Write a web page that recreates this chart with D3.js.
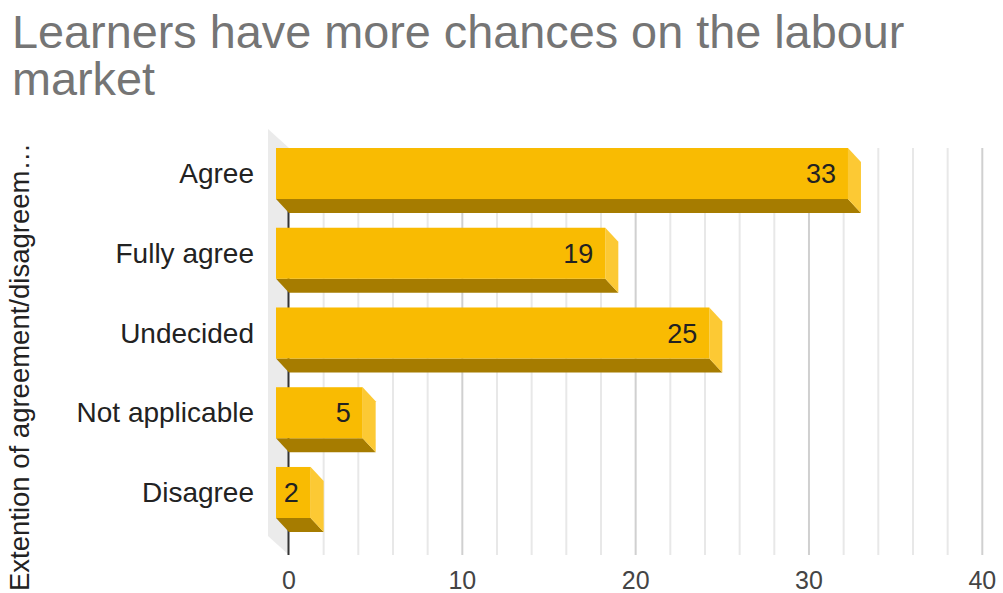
<!DOCTYPE html>
<html>
<head>
<meta charset="utf-8">
<script src="https://cdn.jsdelivr.net/npm/d3@7"></script>
<style>
html,body{margin:0;padding:0;background:#fff;}
svg{display:block;}
text{font-family:"Liberation Sans",Arial,sans-serif;}
</style>
</head>
<body>
<svg id="chart" width="1003" height="593"></svg>
<script>
const titleLines = ["Learners have more chances on the labour", "market"];
const yAxisTitle = "Extention of agreement/disagreem…";
const categories = ["Agree", "Fully agree", "Undecided", "Not applicable", "Disagree"];
const values = [33, 19, 25, 5, 2];
const tickValues = [0, 10, 20, 30, 40];
const minorTickValues = d3.range(0, 41, 2);

const svg = d3.select("#chart");
const depthX = 13, depthY = 14;

const x = d3.scaleLinear().domain([0, 40]).range([276, 969.3]);
const y = d3.scaleBand().domain(categories).range([148, 518]).paddingInner(0.36).paddingOuter(0);

const backTop = 148, backBottom = 555;

// left wall
svg.append("polygon")
  .attr("points", [[268,129],[x(0)+depthX,backTop],[x(0)+depthX,backBottom],[268,536]].map(p=>p.join(",")).join(" "))
  .attr("fill", "#ebebeb");

// gridlines (back plane)
svg.append("g").selectAll("line").data(minorTickValues.filter(v => v % 10 !== 0)).join("line")
  .attr("x1", d => x(d)+depthX).attr("x2", d => x(d)+depthX)
  .attr("y1", backTop).attr("y2", backBottom)
  .attr("stroke", "#e8e8e8").attr("stroke-width", 2);
svg.append("g").selectAll("line").data(tickValues.filter(v => v !== 0)).join("line")
  .attr("x1", d => x(d)+depthX).attr("x2", d => x(d)+depthX)
  .attr("y1", backTop).attr("y2", backBottom)
  .attr("stroke", "#d0d0d0").attr("stroke-width", 2);
// zero axis line
svg.append("line")
  .attr("x1", x(0)+depthX-0.5).attr("x2", x(0)+depthX-0.5)
  .attr("y1", backTop).attr("y2", backBottom)
  .attr("stroke", "#333").attr("stroke-width", 2);

// bars
const bars = svg.append("g").selectAll("g").data(categories).join("g");
bars.each(function(c, i) {
  const g = d3.select(this);
  const x0 = x(0), x1 = x(values[i]);
  const y0 = y(c), h = y.bandwidth(), y1 = y0 + h;
  g.append("polygon")
    .attr("points", [[x0,y1],[x1,y1],[x1+depthX,y1+depthY],[x0+depthX,y1+depthY]].map(p=>p.join(",")).join(" "))
    .attr("fill", "#a67c00");
  g.append("polygon")
    .attr("points", [[x1,y0],[x1+depthX,y0+depthY],[x1+depthX,y1+depthY],[x1,y1]].map(p=>p.join(",")).join(" "))
    .attr("fill", "#fcc934");
  g.append("rect")
    .attr("x", x0).attr("y", y0).attr("width", x1 - x0).attr("height", h)
    .attr("fill", "#f9bb02");
  g.append("text")
    .attr("x", x1 - 12).attr("y", y0 + h/2 + 9.5)
    .attr("text-anchor", "end")
    .attr("font-size", 27).attr("fill", "#222")
    .text(values[i]);
});

// category labels
svg.append("g").selectAll("text").data(categories).join("text")
  .attr("x", 254).attr("y", d => y(d) + y.bandwidth()/2 + 9.5)
  .attr("text-anchor", "end").attr("font-size", 28).attr("fill", "#222")
  .text(d => d);

// x tick labels
svg.append("g").selectAll("text").data(tickValues).join("text")
  .attr("x", d => x(d) + depthX).attr("y", 589)
  .attr("text-anchor", "middle").attr("font-size", 25).attr("fill", "#444")
  .text(d => d);

// y-axis title
svg.append("text")
  .attr("transform", "translate(29,591) rotate(-90)")
  .attr("text-anchor", "start").attr("font-size", 27.5).attr("fill", "#222")
  .text(yAxisTitle);

// title
svg.append("g").selectAll("text").data(titleLines).join("text")
  .attr("x", 12).attr("y", (d, i) => 48 + i * 47)
  .attr("font-size", 46.8).attr("fill", "#757575")
  .text(d => d);
</script>
</body>
</html>
